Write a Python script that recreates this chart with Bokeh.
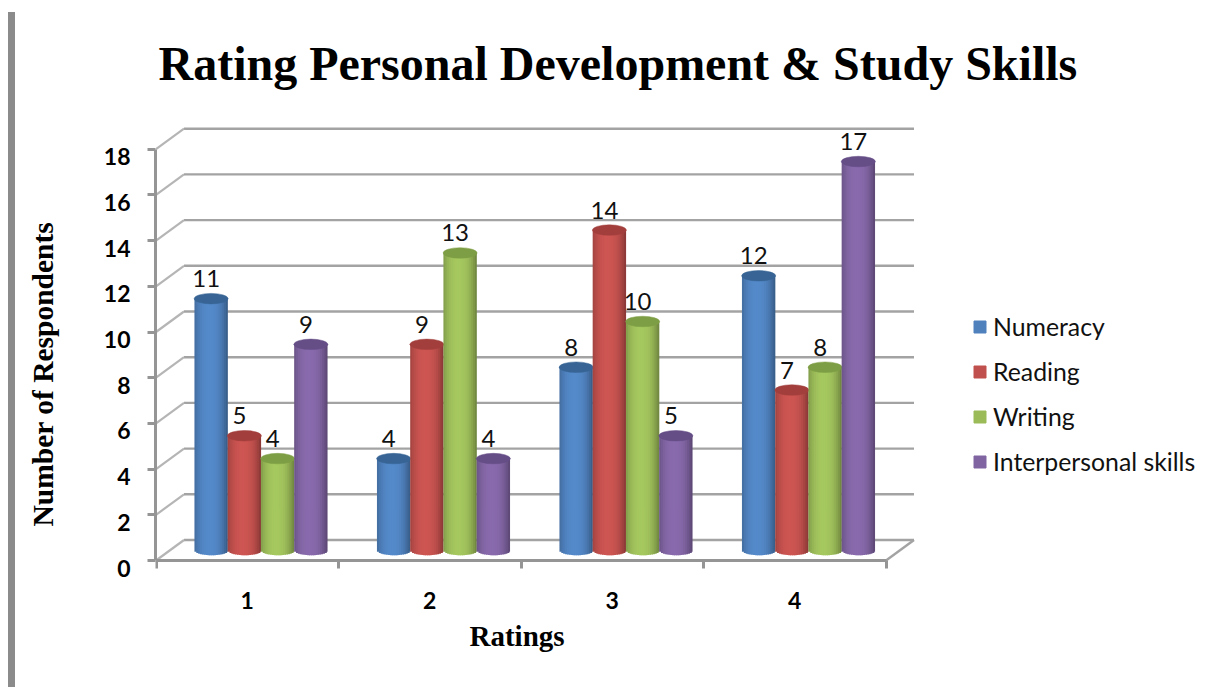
from bokeh.core.properties import value
from bokeh.embed import file_html
from bokeh.layouts import row
from bokeh.models import (ColumnDataSource, Div, FixedTicker, Legend, LegendItem, LinearAxis, Range1d, Title)
from bokeh.plotting import figure
from bokeh.resources import INLINE
import math

ratings = [1, 2, 3, 4]
numeracy = [11, 4, 8, 12]
reading = [5, 9, 14, 7]
writing = [4, 13, 10, 8]
interpersonal = [9, 4, 5, 17]
series_names = ["Numeracy", "Reading", "Writing", "Interpersonal skills"]
series_values = [numeracy, reading, writing, interpersonal]
series_colors = ["#4f81bd", "#c0504d", "#9bbb59", "#8064a2"]
cap_colors = ["#376494", "#a23f3c", "#7e9e45", "#654d86"]
y_ticks = list(range(0, 20, 2))
category_edges = [0.5, 1.5, 2.5, 3.5, 4.5]

WIDTH, HEIGHT = 1212, 687
FRAME_LEFT, FRAME_TOP, AXIS_Y, FRAME_BOTTOM = 155, 100, 560, 569
PX_X, PX_Y = 182.5, 22.85            # pixels per category, pixels per respondent

# Oblique projection of the chart's depth, in data units
DEPTH_X, DEPTH_Y = 28 / PX_X, 20.5 / PX_Y
BAR_SHIFT_X, BAR_SHIFT_Y = 13.75 / PX_X, 10.5 / PX_Y
BAR_W, CAP_H = 33.4 / PX_X, 10.5 / PX_Y
STRIPS = 18
GRID = "#a3a3a3"
AXIS = "#959595"

x0 = 0.5 - 0.5 / PX_X
x1 = x0 + (WIDTH - FRAME_LEFT) / PX_X
y0 = -(FRAME_BOTTOM - AXIS_Y) / PX_Y
y1 = (AXIS_Y - FRAME_TOP) / PX_Y

p = figure(width=WIDTH, height=HEIGHT, output_backend="svg", toolbar_location=None,
           x_range=Range1d(x0, x1), y_range=Range1d(y0, y1),
           x_axis_location=None, y_axis_location=None,
           min_border_left=FRAME_LEFT, min_border_right=0,
           min_border_top=FRAME_TOP, min_border_bottom=HEIGHT - FRAME_BOTTOM,
           outline_line_color=None, background_fill_color="white", border_fill_color=None)
p.grid.visible = False

# Walls and floor of the 3-D box
back_y = [t + DEPTH_Y for t in y_ticks]
p.segment(x0=[0.5 + DEPTH_X] * len(y_ticks), x1=[4.5 + DEPTH_X] * len(y_ticks), y0=back_y, y1=back_y,
          line_color=GRID, line_width=2.4)
p.segment(x0=[0.5] * len(y_ticks), x1=[0.5 + DEPTH_X] * len(y_ticks), y0=y_ticks, y1=back_y,
          line_color="#b5b5b5", line_width=2.2)
p.segment(x0=[4.5], x1=[4.5 + DEPTH_X], y0=[0], y1=[DEPTH_Y], line_color=GRID, line_width=2.4)


def shade(hex_color, f):
    r, g, b = (int(hex_color[i:i + 2], 16) for i in (1, 3, 5))
    return "#%02x%02x%02x" % tuple(min(255, int(c * f)) for c in (r, g, b))


# Cylinders: vertical strips give the round shading and the curved foot
for s, (vals, color, cap) in enumerate(zip(series_values, series_colors, cap_colors)):
    for cat, v in zip(ratings, vals):
        cx = cat + BAR_SHIFT_X + (s - 1.5) * BAR_W * 0.995
        top = v + BAR_SHIFT_Y
        lefts, rights, bottoms, tops, fills = [], [], [], [], []
        step = 2 / STRIPS
        for i in range(STRIPS):
            a = -1 + i * step
            m = a + step / 2
            lefts.append(cx + a * BAR_W / 2)
            # each strip runs under its neighbour so no seam shows between them
            rights.append(cx + min(1, a + 1.6 * step) * BAR_W / 2)
            bottoms.append(BAR_SHIFT_Y - CAP_H / 2 * math.sqrt(1 - m * m))
            tops.append(top)
            fills.append(shade(color, 1.07 - 0.30 * abs(m + 0.1) ** 2.4))
        p.quad(left=lefts, right=rights, bottom=bottoms, top=tops, fill_color=fills, line_color=None)
        p.ellipse(x=[cx], y=[top], width=BAR_W * 1.02, height=CAP_H, fill_color=cap, line_color=cap,
                  line_width=0.5)

# Value labels above each cylinder
label_x, label_y, label_text = [], [], []
for s, vals in enumerate(series_values):
    for cat, v in zip(ratings, vals):
        label_x.append(cat + BAR_SHIFT_X + (s - 1.5) * BAR_W * 0.995)
        label_y.append(v + BAR_SHIFT_Y)
        label_text.append(str(v))
p.text(x=label_x, y=label_y, text=label_text, x_offset=-5, y_offset=-20,
       text_align="center", text_baseline="middle", text_font=value("Lato"),
       text_font_size="24px", text_color="#111111")

# Value axis: line and ticks only
y_axis = LinearAxis(ticker=FixedTicker(ticks=y_ticks), bounds=(0, 18),
                    major_label_text_font_size="0px", major_label_text_color=None,
                    axis_line_color=AXIS, axis_line_width=3, major_tick_line_color=AXIS,
                    major_tick_line_width=3, major_tick_out=8, major_tick_in=0,
                    minor_tick_line_color=None, major_label_standoff=0)
p.add_layout(y_axis, "left")

# The tick numbers sit a little under their ticks, so they get a shifted scale of their own
LABEL_DROP = 7.5 / PX_Y
p.extra_y_ranges["numbers"] = Range1d(y0 + LABEL_DROP, y1 + LABEL_DROP)
y_numbers = LinearAxis(y_range_name="numbers", ticker=FixedTicker(ticks=y_ticks),
                       axis_line_color=None, major_tick_line_color=None, minor_tick_line_color=None,
                       major_tick_in=0, major_tick_out=0, major_label_standoff=17,
                       major_label_text_font="Lato", major_label_text_font_style="bold",
                       major_label_text_font_size="23px", major_label_text_color="#000000")
p.add_layout(y_numbers, "left")

# An axis with unpainted long ticks keeps the gap between the numbers and the caption
y_gap = LinearAxis(ticker=FixedTicker(ticks=y_ticks), axis_line_color=None,
                   major_tick_line_color=None, minor_tick_line_color=None,
                   major_tick_in=0, major_tick_out=42, major_label_standoff=0,
                   major_label_text_font_size="0px", major_label_text_color=None)
p.add_layout(y_gap, "left")

# Category axis: line and boundary ticks at the foot of the box, numbers further down
x_line = LinearAxis(fixed_location=0, ticker=FixedTicker(ticks=category_edges), bounds=(0.5, 4.5),
                    axis_line_color=AXIS, axis_line_width=3, major_tick_line_color=AXIS,
                    major_tick_line_width=3, major_tick_out=8, major_tick_in=0,
                    minor_tick_line_color=None, major_label_text_font_size="0px",
                    major_label_text_color=None, major_label_standoff=0)
p.add_layout(x_line, "below")

x_numbers = LinearAxis(ticker=FixedTicker(ticks=ratings), axis_line_color=None,
                       major_tick_line_color=None, minor_tick_line_color=None,
                       major_tick_in=0, major_tick_out=0, major_label_standoff=22,
                       major_label_text_font="Lato", major_label_text_font_style="bold",
                       major_label_text_font_size="23px", major_label_text_color="#000000")
p.add_layout(x_numbers, "below")

# Titles
p.title = Title(text="Rating Personal Development & Study Skills", text_font="Liberation Serif",
                text_font_style="bold", text_font_size="48px", text_color="black", align="left",
                offset=3, standoff=21)
p.add_layout(Title(text="Number of Respondents", text_font="Liberation Serif", text_font_style="bold",
                   text_font_size="29.5px", text_color="black", align="left",
                   offset=43, standoff=0), "left")
p.add_layout(Title(text="Ratings", text_font="Liberation Serif", text_font_style="bold",
                   text_font_size="29px", text_color="black", align="left", offset=314, standoff=13), "below")

# Legend swatches come from flat-coloured renderers with nothing to plot
items = []
for name, color in zip(series_names, series_colors):
    nothing = ColumnDataSource(data=dict(left=[float("nan")], right=[float("nan")],
                                         bottom=[float("nan")], top=[float("nan")]))
    r = p.quad(left="left", right="right", bottom="bottom", top="top", source=nothing,
               fill_color=color, line_color=color)
    items.append(LegendItem(label=name, renderers=[r]))
legend = Legend(items=items, location=(972 - FRAME_LEFT, FRAME_BOTTOM - 476),
                background_fill_alpha=0, border_line_color=None, padding=0, margin=0,
                glyph_width=15, glyph_height=15, label_standoff=6, spacing=16,
                label_text_font="Lato", label_text_font_size="24.8px", label_text_color="#111111",
                label_height=21)
p.add_layout(legend)

# Page rule down the left edge, laid over the figure's empty margin
rule = Div(text="", width=7, height=HEIGHT - 12, margin=0,
           styles={"position": "fixed", "left": "8px", "top": "12px", "z-index": "5",
                   "background-color": "#8b8b8b"})

open("out.html", "w").write(file_html(row(rule, p), INLINE))
